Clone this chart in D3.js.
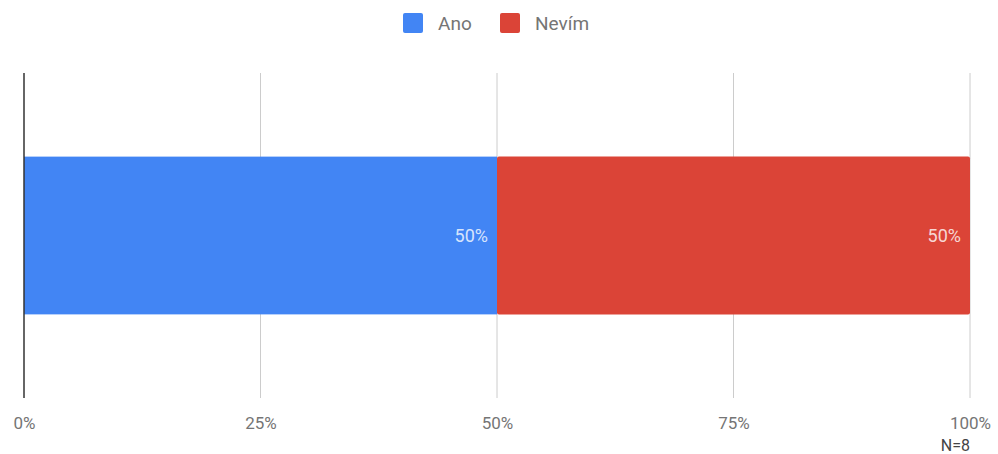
<!DOCTYPE html>
<html><head><meta charset="utf-8">
<script src="https://cdn.jsdelivr.net/npm/d3@7"></script>
<style>body{margin:0;background:#fff;font-family:Roboto,sans-serif}</style>
</head><body><svg id="c" width="998" height="454"></svg>
<script>
const categories = [""];
const seriesNames = ["Ano", "Nevím"];
const seriesValues = [[0.5], [0.5]];
const colors = ["#4285f4", "#db4437"];
const tickValues = [0, 0.25, 0.5, 0.75, 1];
const note = "N=8";

const svg = d3.select("#c");
const x = d3.scaleLinear().domain([0, 1]).range([24, 970]);
const y = d3.scaleBand().domain(categories).range([73, 398]).paddingInner(0).paddingOuter(0.53);

// grid
svg.append("g").selectAll("line").data(tickValues.slice(1)).join("line")
  .attr("x1", d => x(d)).attr("x2", d => x(d)).attr("y1", 73).attr("y2", 398)
  .attr("stroke", "#cccccc").attr("stroke-width", 1);

// stacked bars
const stackData = categories.map((c, i) => {
  const o = {cat: c}; seriesNames.forEach((s, j) => o[s] = seriesValues[j][i]); return o;
});
const stacked = d3.stack().keys(seriesNames)(stackData);
stacked.forEach((layer, j) => {
  const g = svg.append("g");
  g.selectAll("rect").data(layer).join("rect")
    .attr("x", d => x(d[0])).attr("width", d => x(d[1]) - x(d[0]))
    .attr("y", d => y(d.data.cat)).attr("height", y.bandwidth())
    .attr("fill", colors[j]).attr("rx", j === seriesNames.length - 1 ? 2 : 0);
  g.selectAll("text").data(layer).join("text")
    .attr("x", d => x(d[1]) - 9).attr("y", d => y(d.data.cat) + y.bandwidth() / 2)
    .attr("dy", "0.35em").attr("text-anchor", "end")
    .attr("fill", "#ffffff").attr("fill-opacity", 0.8).attr("font-size", 18)
    .text(d => d3.format(".0%")(d[1] - d[0]));
});

// baseline
svg.append("line").attr("x1", x(0)).attr("x2", x(0)).attr("y1", 73).attr("y2", 398)
  .attr("stroke", "#333333").attr("stroke-width", 1.5);

// axis labels
const axis = d3.axisBottom(x).tickValues(tickValues).tickFormat(d3.format(".0%")).tickSize(0).tickPadding(0);
const ag = svg.append("g").attr("transform", "translate(0,423)").call(axis);
ag.select(".domain").remove();
ag.selectAll("text").attr("fill", "#757575").attr("font-size", 17).attr("font-family", "Roboto")
  .attr("dy", "0.35em");

svg.append("text").attr("x", 970).attr("y", 451).attr("text-anchor", "end")
  .attr("fill", "#444444").attr("font-size", 16).text(note);

// legend
const leg = svg.append("g");
const lx = [403, 500];
seriesNames.forEach((s, i) => {
  leg.append("rect").attr("x", lx[i]).attr("y", 13).attr("width", 20).attr("height", 20)
    .attr("rx", 2).attr("fill", colors[i]);
  leg.append("text").attr("x", lx[i] + 35).attr("y", 23).attr("dy", "0.35em")
    .attr("fill", "#757575").attr("font-size", 19).text(s);
});
</script></body></html>
